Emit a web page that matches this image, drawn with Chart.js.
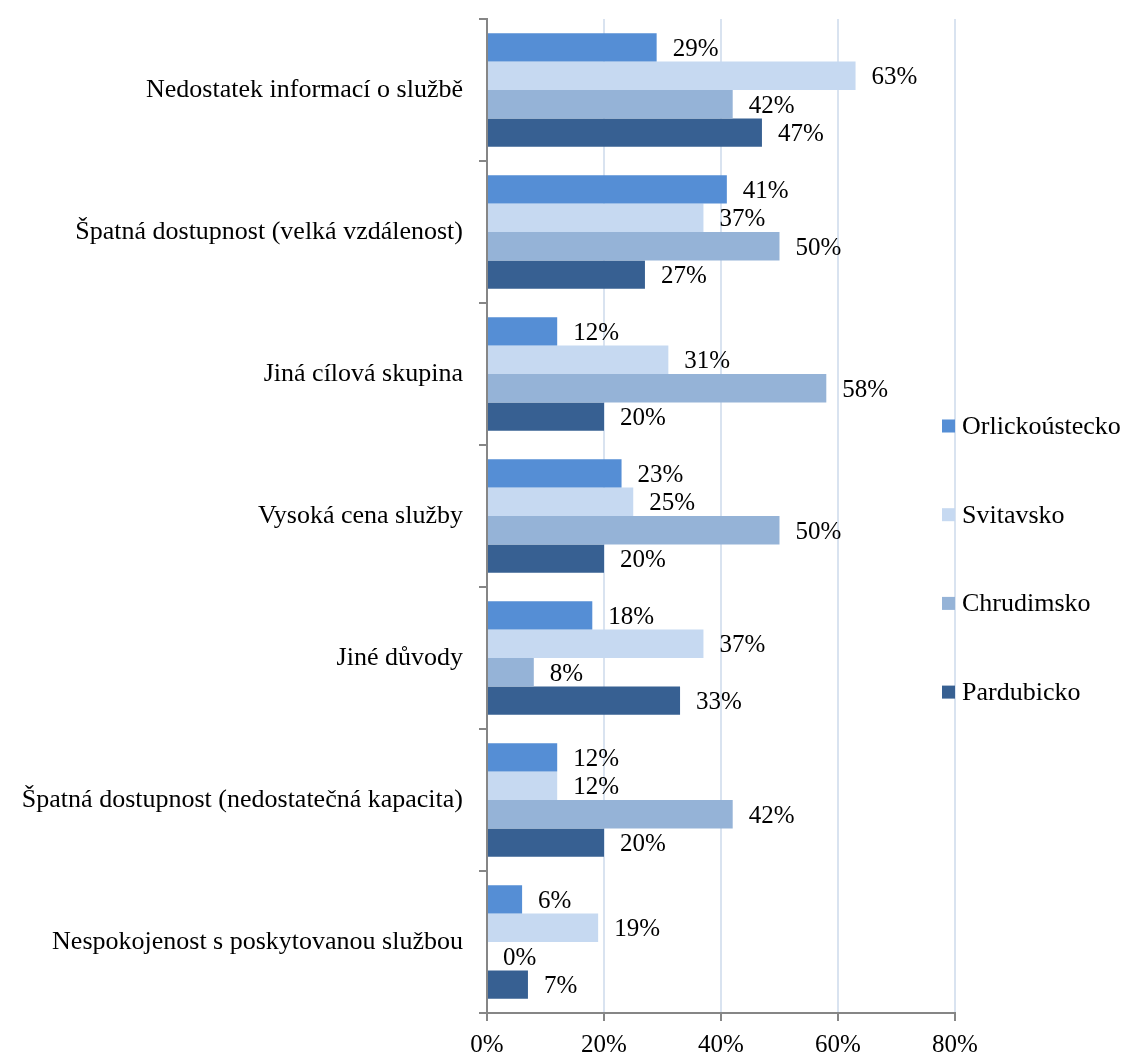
<!DOCTYPE html>
<html>
<head>
<meta charset="utf-8">
<script src="https://cdn.jsdelivr.net/npm/chart.js@4"></script>
<style>
  html, body { margin: 0; padding: 0; background: #fff; }
  #wrap { width: 1125px; height: 1055px; }
</style>
</head>
<body>
<div id="wrap"><canvas id="graf" width="1125" height="1055"></canvas></div>
<script>
var kategorie = [
  'Nedostatek informací o službě',
  'Špatná dostupnost (velká vzdálenost)',
  'Jiná cílová skupina',
  'Vysoká cena služby',
  'Jiné důvody',
  'Špatná dostupnost (nedostatečná kapacita)',
  'Nespokojenost s poskytovanou službou'
];
var orlickoustecko = [29, 41, 12, 23, 18, 12, 6];
var svitavsko = [63, 37, 31, 25, 37, 12, 19];
var chrudimsko = [42, 50, 58, 50, 8, 42, 0];
var pardubicko = [47, 27, 20, 20, 33, 20, 7];
var osaTicky = [0, 20, 40, 60, 80];

var pismo = '"Liberation Serif", "Times New Roman", serif';
var seda = '#868686';

// popisky hodnot za koncem sloupce
var popisky = {
  id: 'popisky',
  afterDatasetsDraw: function (chart) {
    var ctx = chart.ctx;
    ctx.save();
    ctx.font = '25px ' + pismo;
    ctx.fillStyle = '#000';
    ctx.textBaseline = 'middle';
    ctx.textAlign = 'left';
    chart.data.datasets.forEach(function (ds, i) {
      chart.getDatasetMeta(i).data.forEach(function (bar, j) {
        ctx.fillText(ds.data[j] + '%', bar.x + 16, bar.y + 2);
      });
    });
    ctx.restore();
  }
};

// legenda vpravo
var legenda = {
  id: 'legenda',
  afterDraw: function (chart) {
    var ctx = chart.ctx;
    var x = chart.chartArea.right - 13;
    ctx.save();
    ctx.font = '26px ' + pismo;
    ctx.textBaseline = 'middle';
    chart.data.datasets.forEach(function (ds, i) {
      var y = 426 + i * 88.7;
      ctx.fillStyle = ds.backgroundColor;
      ctx.fillRect(x, y - 6.5, 13, 13);
      ctx.fillStyle = '#000';
      ctx.fillText(ds.label, x + 20, y + 1);
    });
    ctx.restore();
  }
};

var ctx = document.getElementById('graf');
var myChart = new Chart(ctx, {
  type: 'bar',
  data: {
    labels: kategorie,
    datasets: [{
      label: 'Orlickoústecko',
      data: orlickoustecko,
      backgroundColor: '#558ED5'
    }, {
      label: 'Svitavsko',
      data: svitavsko,
      backgroundColor: '#C6D9F1'
    }, {
      label: 'Chrudimsko',
      data: chrudimsko,
      backgroundColor: '#95B3D7'
    }, {
      label: 'Pardubicko',
      data: pardubicko,
      backgroundColor: '#376092'
    }]
  },
  options: {
    indexAxis: 'y',
    responsive: false,
    animation: false,
    devicePixelRatio: 1,
    categoryPercentage: 0.8,
    barPercentage: 1,
    layout: { padding: { top: 19, right: 170, bottom: 0, left: 0 } },
    plugins: {
      legend: { display: false },
      tooltip: { enabled: false }
    },
    scales: {
      x: {
        min: 0,
        max: 80,
        afterBuildTicks: function (s) {
          s.ticks = osaTicky.map(function (v) { return { value: v }; });
        },
        afterFit: function (s) { s.height = 42; },
        border: { color: seda, width: 2 },
        grid: { color: '#D9E3F0', lineWidth: 2, tickColor: seda, tickLength: 8 },
        ticks: {
          color: '#000',
          font: { family: pismo, size: 25 },
          padding: 9,
          callback: function (v) { return v + '%'; }
        }
      },
      y: {
        afterFit: function (s) {
          s.width = 487;
          s.paddingTop = 0;
          s.paddingBottom = 0;
        },
        border: { color: seda, width: 2 },
        grid: { drawOnChartArea: false, color: seda, lineWidth: 2, tickLength: 8 },
        ticks: {
          color: '#000',
          font: { family: pismo, size: 26 },
          padding: 16
        }
      }
    }
  },
  plugins: [popisky, legenda]
});
</script>
</body>
</html>
